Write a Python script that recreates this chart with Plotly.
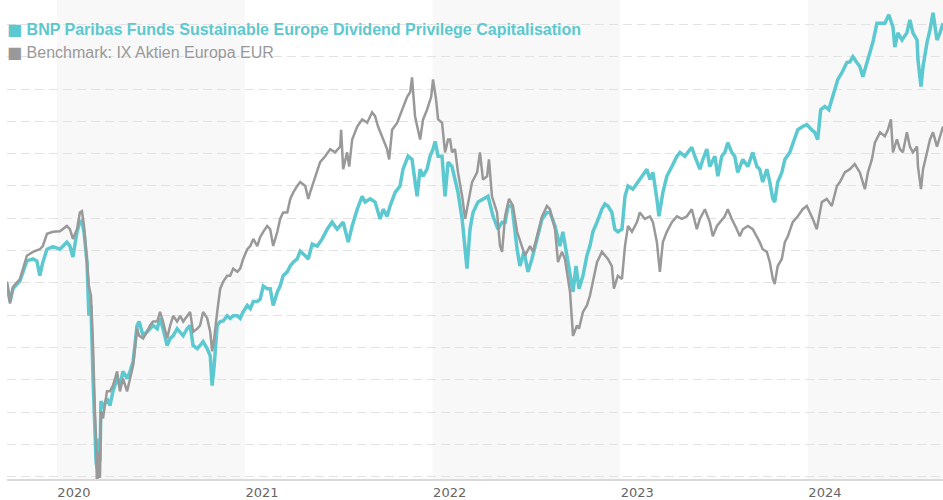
import numpy as np
import pandas as pd
import plotly.graph_objects as go

FUND_NAME = "BNP Paribas Funds Sustainable Europe Dividend Privilege Capitalisation"
BENCH_NAME = "Benchmark: IX Aktien Europa EUR"

# time as decimal years, values as index (start ~100)
fund_year = [2019.734, 2019.750, 2019.766, 2019.803, 2019.840, 2019.872, 2019.893, 2019.909, 2019.925, 2019.947,
             2019.979, 2020.016, 2020.053, 2020.069, 2020.085, 2020.107, 2020.122, 2020.133, 2020.144, 2020.160,
             2020.170, 2020.181, 2020.192, 2020.202, 2020.208, 2020.213, 2020.224, 2020.229, 2020.234, 2020.245,
             2020.266, 2020.282, 2020.298, 2020.320, 2020.335, 2020.351, 2020.373, 2020.389, 2020.405, 2020.426,
             2020.437, 2020.458, 2020.479, 2020.495, 2020.511, 2020.533, 2020.548, 2020.564, 2020.586, 2020.602,
             2020.618, 2020.639, 2020.655, 2020.671, 2020.692, 2020.708, 2020.724, 2020.746, 2020.761, 2020.777,
             2020.799, 2020.815, 2020.825, 2020.836, 2020.852, 2020.868, 2020.884, 2020.905, 2020.921, 2020.937,
             2020.959, 2020.974, 2020.990, 2021.012, 2021.028, 2021.044, 2021.065, 2021.081, 2021.097, 2021.118,
             2021.134, 2021.150, 2021.172, 2021.187, 2021.203, 2021.225, 2021.241, 2021.257, 2021.278,
             2021.294, 2021.321, 2021.337, 2021.358, 2021.385, 2021.411, 2021.438, 2021.464, 2021.491, 2021.523,
             2021.550, 2021.571, 2021.598, 2021.624, 2021.640, 2021.667, 2021.693, 2021.720, 2021.736, 2021.757,
             2021.773, 2021.800, 2021.826, 2021.842, 2021.869, 2021.890, 2021.906, 2021.917, 2021.933, 2021.949,
             2021.970, 2021.986, 2022.002, 2022.013, 2022.029, 2022.050, 2022.066, 2022.082, 2022.103, 2022.119,
             2022.135, 2022.157, 2022.173, 2022.183, 2022.199, 2022.215, 2022.242, 2022.268, 2022.295, 2022.322,
             2022.348, 2022.370, 2022.386, 2022.402, 2022.423, 2022.450, 2022.465, 2022.487, 2022.508, 2022.529,
             2022.556, 2022.583, 2022.609, 2022.625, 2022.652, 2022.678, 2022.694, 2022.716, 2022.737, 2022.748,
             2022.764, 2022.780, 2022.801, 2022.822, 2022.838, 2022.854, 2022.876, 2022.902, 2022.918, 2022.934,
             2022.955, 2022.971, 2022.987, 2023.009, 2023.025, 2023.041, 2023.067, 2023.094, 2023.120, 2023.142,
             2023.158, 2023.174, 2023.195, 2023.206, 2023.227, 2023.248, 2023.275, 2023.302, 2023.318, 2023.344,
             2023.360, 2023.381, 2023.397, 2023.424, 2023.440, 2023.461, 2023.477, 2023.504, 2023.520, 2023.541,
             2023.557, 2023.573, 2023.594, 2023.610, 2023.626, 2023.637, 2023.653, 2023.680, 2023.706, 2023.728,
             2023.743, 2023.759, 2023.781, 2023.797, 2023.813, 2023.823, 2023.839, 2023.861, 2023.877, 2023.903,
             2023.930, 2023.946, 2023.972, 2023.994, 2024.020, 2024.036, 2024.052, 2024.068, 2024.090, 2024.111,
             2024.127, 2024.143, 2024.159, 2024.180, 2024.207, 2024.223, 2024.239, 2024.260, 2024.276, 2024.292,
             2024.313, 2024.329, 2024.345, 2024.367, 2024.383, 2024.409, 2024.430, 2024.452, 2024.462, 2024.478,
             2024.500, 2024.526, 2024.542, 2024.558, 2024.580, 2024.585, 2024.601, 2024.612, 2024.633, 2024.649,
             2024.665, 2024.686, 2024.702, 2024.718]
fund_value = [99.8, 97.1, 99.1, 100.3, 103.4, 103.7, 103.4, 101.1, 103.2, 105.2,
              105.6, 105.2, 106.3, 105.7, 104.0, 107.9, 109.4, 109.6, 107.9, 103.2,
              94.9, 96.5, 85.2, 74.9, 72.4, 71.3, 75.9, 72.4, 81.7, 80.6,
              82.1, 81.0, 83.2, 85.2, 84.1, 86.3, 85.2, 86.3, 87.8, 93.4,
              94.0, 91.8, 92.4, 92.9, 93.4, 92.9, 94.5, 92.9, 90.3, 91.4,
              91.8, 92.9, 92.4, 91.8, 92.9, 93.4, 90.3, 89.8, 90.3, 90.9,
              89.8, 88.7, 84.1, 87.2, 93.4, 94.0, 94.1, 94.9, 94.5, 94.9,
              94.9, 94.5, 95.5, 96.5, 96.0, 97.1, 97.1, 97.5, 99.5, 99.1,
              99.1, 96.5, 98.6, 99.5, 101.1, 101.7, 102.6, 103.2, 103.7,
              104.9, 104.2, 103.7, 106.0, 105.7, 106.8, 108.3, 109.4, 108.3, 109.4,
              106.3, 108.8, 111.4, 113.4, 112.5, 113.0, 112.5, 109.9, 111.4, 110.3,
              111.9, 114.0, 115.0, 117.6, 119.6, 119.1, 116.0, 113.4, 117.6, 116.5,
              117.6, 119.6, 120.7, 121.9, 119.6, 119.6, 113.4, 118.7, 118.0, 116.0,
              114.0, 109.9, 104.2, 102.2, 108.3, 110.9, 112.5, 113.0, 113.4, 110.3,
              108.3, 109.4, 109.4, 111.9, 111.9, 105.2, 102.6, 104.8, 101.7, 103.7,
              106.8, 109.9, 110.9, 110.9, 108.8, 105.7, 107.9, 104.2, 101.1, 98.6,
              102.6, 99.1, 101.1, 104.2, 105.7, 107.9, 109.4, 111.4, 112.2, 111.9,
              110.9, 108.3, 107.9, 108.3, 113.4, 115.0, 114.5, 115.6, 116.5, 117.6,
              116.0, 117.1, 113.0, 110.3, 114.0, 116.5, 118.0, 119.6, 120.2, 119.6,
              120.2, 121.0, 119.6, 117.6, 119.1, 120.7, 118.0, 119.6, 116.5, 119.6,
              120.2, 121.7, 120.2, 119.6, 117.1, 118.0, 119.1, 118.0, 120.2, 118.0,
              117.6, 115.6, 117.6, 115.6, 113.0, 112.5, 115.6, 117.1, 119.1, 120.2,
              122.5, 123.7, 124.2, 124.5, 123.7, 123.3, 122.2, 126.8, 127.3, 126.8,
              128.4, 129.9, 131.5, 132.5, 134.1, 134.2, 135.0, 134.1, 133.5, 131.9,
              134.1, 135.6, 137.2, 140.2, 140.2, 140.2, 141.5, 139.6, 136.5, 138.7,
              137.6, 138.7, 140.7, 138.7, 137.6, 134.5, 130.4, 133.5, 137.2, 139.2,
              141.8, 137.6, 138.7, 140.2]

bench_year = [2019.734, 2019.750, 2019.766, 2019.803, 2019.840, 2019.872, 2019.909, 2019.925, 2019.947, 2019.979,
              2020.016, 2020.053, 2020.069, 2020.085, 2020.107, 2020.122, 2020.133, 2020.144, 2020.160, 2020.170,
              2020.181, 2020.192, 2020.202, 2020.208, 2020.213, 2020.224, 2020.229, 2020.234, 2020.245, 2020.266,
              2020.282, 2020.298, 2020.320, 2020.335, 2020.351, 2020.373, 2020.389, 2020.405, 2020.426, 2020.437,
              2020.458, 2020.479, 2020.495, 2020.511, 2020.533, 2020.548, 2020.564, 2020.586, 2020.602, 2020.618,
              2020.639, 2020.655, 2020.671, 2020.692, 2020.708, 2020.724, 2020.746, 2020.761, 2020.777, 2020.799,
              2020.815, 2020.825, 2020.836, 2020.852, 2020.868, 2020.884, 2020.905, 2020.921, 2020.937, 2020.959,
              2020.974, 2020.990, 2021.012, 2021.028, 2021.044, 2021.065, 2021.081, 2021.097, 2021.118, 2021.134,
              2021.150, 2021.172, 2021.187, 2021.203, 2021.225, 2021.241, 2021.257, 2021.278,
              2021.294, 2021.321, 2021.337, 2021.347, 2021.374, 2021.400, 2021.427, 2021.454, 2021.480, 2021.507,
              2021.512, 2021.523, 2021.544, 2021.555, 2021.571, 2021.598, 2021.624, 2021.651, 2021.677, 2021.693,
              2021.709, 2021.736, 2021.757, 2021.768, 2021.784, 2021.811, 2021.837, 2021.864, 2021.880, 2021.890,
              2021.906, 2021.922, 2021.933, 2021.949, 2021.970, 2021.992, 2022.002, 2022.018, 2022.029, 2022.050,
              2022.066, 2022.082, 2022.093, 2022.103, 2022.119, 2022.135, 2022.157, 2022.173, 2022.189, 2022.210,
              2022.237, 2022.252, 2022.268, 2022.290, 2022.300, 2022.316, 2022.343, 2022.359, 2022.370, 2022.386,
              2022.407, 2022.428, 2022.450, 2022.476, 2022.492, 2022.519, 2022.535, 2022.556, 2022.583, 2022.609,
              2022.625, 2022.652, 2022.668, 2022.689, 2022.705, 2022.732, 2022.748, 2022.769, 2022.780, 2022.801,
              2022.822, 2022.838, 2022.854, 2022.876, 2022.902, 2022.918, 2022.934, 2022.955, 2022.966, 2022.987,
              2023.009, 2023.025, 2023.041, 2023.062, 2023.089, 2023.104, 2023.131, 2023.158, 2023.174, 2023.195,
              2023.211, 2023.227, 2023.248, 2023.275, 2023.302, 2023.328, 2023.355, 2023.381, 2023.408, 2023.424,
              2023.451, 2023.477, 2023.493, 2023.515, 2023.530, 2023.557, 2023.573, 2023.594, 2023.621, 2023.637,
              2023.653, 2023.680, 2023.706, 2023.728, 2023.743, 2023.759, 2023.781, 2023.797, 2023.813, 2023.823,
              2023.839, 2023.861, 2023.877, 2023.893, 2023.919, 2023.946, 2023.972, 2023.994, 2024.010, 2024.026,
              2024.047, 2024.074, 2024.100, 2024.127, 2024.154, 2024.170, 2024.196, 2024.223, 2024.249, 2024.276,
              2024.303, 2024.319, 2024.340, 2024.356, 2024.383, 2024.409, 2024.425, 2024.441, 2024.452, 2024.473,
              2024.489, 2024.505, 2024.526, 2024.542, 2024.558, 2024.580, 2024.585, 2024.601, 2024.612, 2024.633,
              2024.649, 2024.665, 2024.686, 2024.718]
bench_value = [100.2, 96.8, 99.4, 100.6, 104.2, 104.8, 105.2, 105.7, 107.6, 107.9,
               108.0, 108.8, 108.3, 106.8, 108.3, 110.9, 111.1, 108.8, 103.2, 99.5,
               98.0, 90.3, 80.1, 75.9, 68.2, 73.9, 69.8, 80.1, 79.0, 83.2,
               83.2, 84.1, 86.3, 83.2, 85.2, 83.2, 85.2, 87.2, 92.9, 91.8,
               91.4, 92.4, 93.4, 94.0, 94.0, 95.5, 94.0, 91.4, 93.4, 94.9,
               94.0, 94.9, 94.0, 94.9, 95.5, 92.4, 92.9, 93.4, 95.5, 94.5,
               92.4, 89.4, 91.4, 95.5, 99.1, 100.2, 101.1, 101.1, 102.2, 101.7,
               102.2, 103.7, 105.2, 105.7, 106.8, 105.7, 107.1, 107.9, 108.8, 108.3,
               105.7, 107.9, 109.9, 110.9, 110.9, 113.0, 114.0, 115.0,
               115.6, 115.0, 113.0, 114.0, 116.5, 118.7, 119.6, 120.7, 120.2, 121.1,
               123.7, 117.6, 120.2, 118.0, 122.2, 124.2, 125.3, 124.8, 126.4, 125.8,
               124.2, 122.2, 120.7, 119.1, 123.7, 124.8, 126.8, 128.8, 129.5, 131.8,
               125.8, 123.3, 122.2, 125.3, 126.8, 128.8, 131.5, 128.4, 125.3, 124.8,
               120.2, 122.2, 122.2, 120.2, 120.7, 117.1, 113.4, 109.9, 112.5, 115.6,
               117.1, 120.2, 116.0, 116.5, 119.1, 113.4, 110.9, 105.7, 104.8, 110.3,
               113.0, 111.9, 107.9, 105.7, 104.2, 105.7, 104.8, 107.2, 110.3, 111.9,
               111.4, 108.3, 103.2, 104.8, 103.7, 98.6, 91.8, 93.4, 92.9, 95.5,
               96.5, 98.0, 100.2, 103.2, 104.8, 104.2, 103.7, 102.6, 99.1, 101.1,
               100.6, 105.7, 108.8, 107.9, 109.4, 110.9, 109.9, 110.3, 109.4, 106.3,
               101.7, 106.3, 107.9, 109.4, 110.3, 109.9, 110.3, 111.4, 108.3, 109.9,
               111.4, 109.4, 107.2, 108.8, 109.4, 110.3, 111.4, 109.9, 108.3, 107.2,
               108.3, 108.8, 108.3, 107.2, 106.3, 105.2, 104.8, 103.2, 100.6, 99.8,
               102.6, 103.7, 106.3, 107.2, 109.4, 110.3, 111.4, 111.9, 110.9, 109.9,
               108.3, 112.5, 113.0, 111.9, 115.0, 115.6, 117.1, 117.6, 118.4, 117.1,
               114.5, 117.1, 119.1, 121.7, 123.3, 122.7, 123.7, 125.3, 120.2, 122.2,
               120.7, 120.2, 123.3, 121.1, 120.2, 121.1, 118.0, 114.5, 117.6, 120.2,
               122.2, 123.3, 121.1, 124.2]

year_ticks = [2020, 2021, 2022, 2023, 2024]
shaded_years = [2020, 2022, 2024]

FUND_COLOR = "#5cc8cf"
BENCH_COLOR = "#999999"


def to_date(t):
    y = int(np.floor(t))
    s = pd.Timestamp(year=y, month=1, day=1)
    e = pd.Timestamp(year=y + 1, month=1, day=1)
    return s + (e - s) * (t - y)


fund_dates = [to_date(t) for t in fund_year]
bench_dates = [to_date(t) for t in bench_year]
x_start = min(fund_dates[0], bench_dates[0])
x_end = max(fund_dates[-1], bench_dates[-1])

fig = go.Figure()
fig.add_trace(go.Scatter(x=fund_dates, y=fund_value, mode="lines", name=FUND_NAME,
                         line=dict(color=FUND_COLOR, width=3.5), showlegend=False))
fig.add_trace(go.Scatter(x=bench_dates, y=bench_value, mode="lines", name=BENCH_NAME,
                         line=dict(color=BENCH_COLOR, width=2.5), showlegend=False))

for yr in shaded_years:
    x0 = pd.Timestamp(year=yr, month=1, day=1)
    x1 = min(pd.Timestamp(year=yr + 1, month=1, day=1), x_end)
    fig.add_shape(type="rect", xref="x", yref="paper", x0=x0, x1=x1, y0=0, y1=1,
                  fillcolor="#f8f8f8", line=dict(width=0), layer="below")

fig.add_annotation(xref="paper", yref="paper", x=0, y=1, xanchor="left", yanchor="middle",
                   xshift=-2, yshift=-29, showarrow=False,
                   text="<span style='font-family:DejaVu Sans'>■</span> <b>" + FUND_NAME + "</b>",
                   font=dict(family="Liberation Sans, Arial", size=16, color=FUND_COLOR))
fig.add_annotation(xref="paper", yref="paper", x=0, y=1, xanchor="left", yanchor="middle",
                   xshift=-2, yshift=-52, showarrow=False,
                   text="<span style='font-family:DejaVu Sans'>■</span> " + BENCH_NAME,
                   font=dict(family="Liberation Sans, Arial", size=16, color=BENCH_COLOR))

fig.update_layout(
    width=943, height=500,
    margin=dict(l=7, r=0, t=0, b=19),
    paper_bgcolor="white", plot_bgcolor="white",
    showlegend=False,
    xaxis=dict(type="date", range=[x_start, x_end], showgrid=False, zeroline=False,
               tickvals=[pd.Timestamp(year=y, month=1, day=1) for y in year_ticks],
               ticktext=[str(y) for y in year_ticks],
               ticks="", ticklabelshift=17,
               tickfont=dict(family="DejaVu Sans", size=13, color="#666666"),
               showline=True, linecolor="#dadada", linewidth=2),
    yaxis=dict(range=[69.63, 143.79], tick0=0, dtick=5, showticklabels=False,
               showgrid=True, gridcolor="#e2e2e2", gridwidth=1, griddash="9px,5px",
               zeroline=False, showline=False),
)

fig.write_html("out.html", config={"displayModeBar": False},
               post_script="document.body.style.margin='0';")
